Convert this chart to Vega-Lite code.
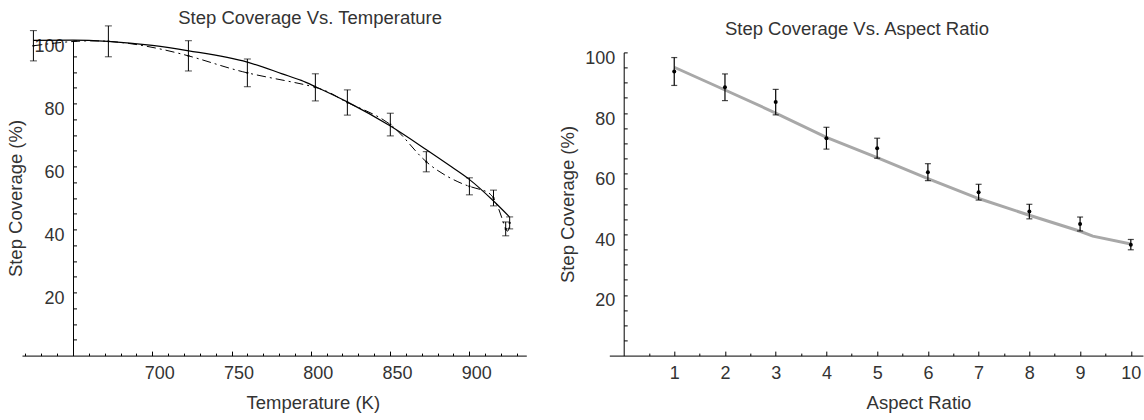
{
  "$schema": "https://vega.github.io/schema/vega-lite/v6.json",
  "padding": {"left": 6, "top": 8.4, "right": 2, "bottom": 2},
  "bounds": "flush",
  "spacing": 82.3,
  "config": {
    "view": {"stroke": null},
    "font": "Liberation Sans",
    "axis": {
      "domainColor": "#000", "tickColor": "#000", "labelColor": "#333", "titleColor": "#333",
      "labelFont": "Liberation Sans", "titleFont": "Liberation Sans",
      "labelFontSize": 18, "titleFontSize": 18.5, "titleFontWeight": "normal",
      "grid": false, "labelFlush": false,
      "domainWidth": 1, "tickWidth": 1, "tickSize": -4.5
    },
    "title": {"font": "Liberation Sans", "fontSize": 18.5, "fontWeight": "normal", "color": "#333"}
  },
  "datasets": {
    "leftFit": [
      {"T": 625, "v": 100.0}, {"T": 650, "v": 100.1}, {"T": 672, "v": 99.7}, {"T": 700, "v": 98.4},
      {"T": 723, "v": 96.7}, {"T": 760, "v": 93.1}, {"T": 782, "v": 89.4}, {"T": 794, "v": 87.3},
      {"T": 803, "v": 85.3}, {"T": 823, "v": 80.5}, {"T": 850, "v": 72.9}, {"T": 873, "v": 65.3},
      {"T": 889, "v": 59.8}, {"T": 900, "v": 55.9}, {"T": 915, "v": 49.2}, {"T": 925.4, "v": 44.0}
    ],
    "leftData": [
      {"T": 625, "v": 98.3, "e": 4.8}, {"T": 672.3, "v": 99.7, "e": 4.9}, {"T": 722.8, "v": 95.1, "e": 4.8},
      {"T": 760, "v": 89.7, "e": 4.4}, {"T": 802.9, "v": 85.1, "e": 4.3}, {"T": 823.1, "v": 80.3, "e": 4.0},
      {"T": 850.2, "v": 73.3, "e": 3.6}, {"T": 872.9, "v": 61.5, "e": 3.2}, {"T": 900.1, "v": 53.7, "e": 2.7},
      {"T": 915.3, "v": 50.0, "e": 2.5}, {"T": 923, "v": 40.2, "e": 2.2}, {"T": 925.5, "v": 42.1, "e": 1.9}
    ],
    "rightFit": [
      {"r": 1, "v": 95.1}, {"r": 2, "v": 87.6}, {"r": 3, "v": 80.0}, {"r": 4, "v": 72.0},
      {"r": 5, "v": 65.3}, {"r": 6, "v": 58.4}, {"r": 7, "v": 51.8}, {"r": 8, "v": 46.3},
      {"r": 9, "v": 41.0}, {"r": 9.25, "v": 39.4}, {"r": 10, "v": 36.8}
    ],
    "rightData": [
      {"r": 1, "v": 93.7, "e": 4.6}, {"r": 2, "v": 88.5, "e": 4.4}, {"r": 3, "v": 83.6, "e": 4.2},
      {"r": 4, "v": 71.7, "e": 3.6}, {"r": 5, "v": 68.4, "e": 3.3}, {"r": 6, "v": 60.5, "e": 2.8},
      {"r": 7, "v": 53.9, "e": 2.6}, {"r": 8, "v": 47.5, "e": 2.4}, {"r": 9, "v": 43.4, "e": 2.3},
      {"r": 10, "v": 36.6, "e": 1.7}
    ]
  },
  "hconcat": [
    {
      "width": 504.3,
      "height": 315.2,
      "title": {"text": "Step Coverage Vs. Temperature", "anchor": "middle", "dx": 36, "offset": -2.4},
      "resolve": {"axis": {"x": "independent", "y": "independent"}},
      "layer": [
        {
          "data": {"name": "leftFit"},
          "mark": {"type": "line", "color": "#000", "strokeWidth": 1.2, "interpolate": "monotone"},
          "encoding": {
            "x": {
              "field": "T", "type": "quantitative",
              "scale": {"domain": [617.8, 936], "nice": false, "zero": false},
              "axis": {
                "orient": "bottom", "title": "Temperature (K)",
                "values": [700, 750, 800, 850, 900],
                "labelPadding": 13.9, "labelOffset": 7,
                "titlePadding": 10.8, "titleX": 290.8, "titleAlign": "center"
              }
            },
            "y": {
              "field": "v", "type": "quantitative",
              "scale": {"domain": [0, 100], "nice": false},
              "axis": {
                "orient": "left", "title": "Step Coverage (%)",
                "values": [20, 40, 60, 80, 100],
                "offset": -51, "labelPadding": 12.5, "labelOffset": 6, "tickSize": -3.5,
                "titlePadding": 8
              }
            }
          }
        },
        {
          "data": {"name": "leftData"},
          "mark": {"type": "line", "color": "#000", "strokeWidth": 1, "strokeDash": [9, 4, 2, 4], "interpolate": "natural"},
          "encoding": {
            "x": {
              "field": "T", "type": "quantitative",
              "axis": {
                "orient": "bottom", "title": null, "labels": false, "domain": false, "tickSize": -2.5,
                "values": [620, 630, 640, 660, 670, 680, 690, 710, 720, 730, 740, 760, 770, 780, 790, 810, 820, 830, 840, 860, 870, 880, 890, 910, 920, 930]
              }
            },
            "y": {
              "field": "v", "type": "quantitative",
              "axis": {
                "orient": "left", "title": null, "labels": false, "domain": false, "tickSize": -3.5, "offset": -51,
                "values": [5, 10, 15, 25, 30, 35, 45, 50, 55, 65, 70, 75, 85, 90, 95]
              }
            }
          }
        },
        {
          "data": {"name": "leftData"},
          "mark": {"type": "errorbar", "ticks": {"size": 7, "thickness": 1, "color": "#000"}, "color": "#000", "thickness": 1},
          "encoding": {
            "x": {"field": "T", "type": "quantitative", "axis": null},
            "y": {"field": "v", "type": "quantitative", "axis": null},
            "yError": {"field": "e"}
          }
        },
        {
          "data": {"name": "leftData"},
          "mark": {"type": "point", "filled": true, "color": "#000", "size": 5, "opacity": 1},
          "encoding": {
            "x": {"field": "T", "type": "quantitative", "axis": null},
            "y": {"field": "v", "type": "quantitative", "axis": null}
          }
        }
      ]
    },
    {
      "width": 533.7,
      "height": 315.2,
      "title": {"text": "Step Coverage Vs. Aspect Ratio", "anchor": "middle", "dx": -19.2, "offset": 1.6},
      "resolve": {"axis": {"x": "independent", "y": "independent"}},
      "layer": [
        {
          "data": {"name": "rightFit"},
          "mark": {"type": "line", "color": "#a8a8a8", "strokeWidth": 3},
          "encoding": {
            "x": {
              "field": "r", "type": "quantitative",
              "scale": {"domain": [-0.28, 10.24], "nice": false, "zero": false},
              "axis": {
                "orient": "bottom", "title": "Aspect Ratio",
                "values": [1, 2, 3, 4, 5, 6, 7, 8, 9, 10],
                "labelPadding": 13.9, "labelOffset": 0,
                "titlePadding": 10.8, "titleX": 309.2, "titleAlign": "center"
              }
            },
            "y": {
              "field": "v", "type": "quantitative",
              "scale": {"domain": [0, 100], "nice": false, "range": [315.2, 12]},
              "axis": {
                "orient": "left", "title": "Step Coverage (%)",
                "values": [20, 40, 60, 80, 100],
                "offset": -14.4, "labelPadding": 12.5, "labelOffset": 6, "tickSize": -3.5,
                "titlePadding": 6.75
              }
            }
          }
        },
        {
          "data": {"name": "rightData"},
          "mark": {"type": "errorbar", "ticks": {"size": 6, "thickness": 1.2, "color": "#000"}, "color": "#000", "thickness": 1.2},
          "encoding": {
            "x": {
              "field": "r", "type": "quantitative",
              "axis": {
                "orient": "bottom", "title": null, "labels": false, "domain": false, "tickSize": -2.5,
                "values": [0.5, 1.5, 2.5, 3.5, 4.5, 5.5, 6.5, 7.5, 8.5, 9.5]
              }
            },
            "y": {
              "field": "v", "type": "quantitative",
              "axis": {
                "orient": "left", "title": null, "labels": false, "domain": false, "tickSize": -3.5, "offset": -14.4,
                "values": [5, 10, 15, 25, 30, 35, 45, 50, 55, 65, 70, 75, 85, 90, 95]
              }
            },
            "yError": {"field": "e"}
          }
        },
        {
          "data": {"name": "rightData"},
          "mark": {"type": "point", "filled": true, "color": "#000", "size": 16, "opacity": 1},
          "encoding": {
            "x": {"field": "r", "type": "quantitative", "axis": null},
            "y": {"field": "v", "type": "quantitative", "axis": null}
          }
        }
      ]
    }
  ]
}
